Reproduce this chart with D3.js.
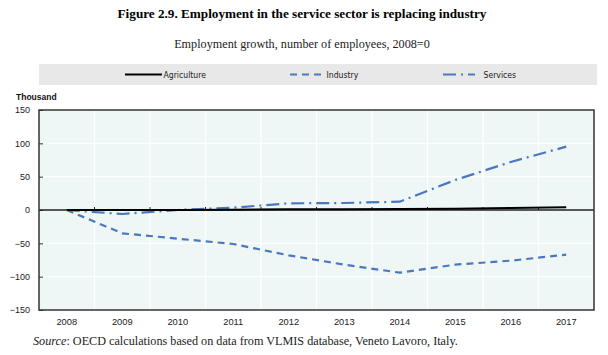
<!DOCTYPE html>
<html><head><meta charset="utf-8">
<script src="https://cdn.jsdelivr.net/npm/d3@7"></script>
<style>body{margin:0;background:#fff}svg{display:block}</style>
</head><body>
<svg id="c" width="608" height="355"></svg>
<script>
const years = ["2008","2009","2010","2011","2012","2013","2014","2015","2016","2017"];
const agriculture = [0, 0, 0, 0.5, 1, 1, 1.5, 2, 3, 4];
const industry = [0, -35, -43, -51, -68, -82, -94, -82, -76, -67];
const services = [0, -6, 0, 3.5, 10, 10.5, 12.5, 45, 72, 95];
const yTicks = [150, 100, 50, 0, -50, -100, -150];
const seriesNames = ["Agriculture", "Industry", "Services"];

const svg = d3.select("#c");
const m = {l:39, r:594, t:110, b:310};
const x = d3.scaleBand().domain(years).range([m.l, m.r]);
const y = d3.scaleLinear().domain([-150, 150]).range([m.b, m.t]);
const cx = d => x(d) + x.bandwidth()/2;

// titles
svg.append("text").attr("x", 302).attr("y", 18).attr("text-anchor","middle")
  .attr("font-family","Liberation Serif, Times New Roman, serif").attr("font-weight","bold").attr("font-size",13.2)
  .text("Figure 2.9. Employment in the service sector is replacing industry");
svg.append("text").attr("x", 302).attr("y", 48).attr("text-anchor","middle")
  .attr("font-family","Liberation Serif, Times New Roman, serif").attr("font-size",12.2).attr("fill","#222")
  .text("Employment growth, number of employees, 2008=0");

// legend
svg.append("rect").attr("x",39).attr("y",64).attr("width",558).attr("height",21).attr("fill","#e8e8e8");
const legItems = [
  {name:seriesNames[0], x1:125, x2:162, color:"#000", dash:null},
  {name:seriesNames[1], x1:290, x2:325, color:"#4a78bd", dash:"7,5"},
  {name:seriesNames[2], x1:443, x2:482, color:"#4a78bd", dash:"13,5,2,5,7"}
];
legItems.forEach(d => {
  svg.append("line").attr("x1",d.x1).attr("x2",d.x2).attr("y1",74.5).attr("y2",74.5)
    .attr("stroke",d.color).attr("stroke-width",2).attr("stroke-dasharray",d.dash);
  svg.append("text").attr("x",d.x2+1.5).attr("y",78).attr("font-family","DejaVu Sans Condensed, Liberation Sans, Arial, sans-serif")
    .attr("font-stretch","condensed").attr("font-size",8.6).attr("fill","#222").text(d.name);
});

// plot background
svg.append("rect").attr("x",m.l).attr("y",m.t).attr("width",m.r-m.l).attr("height",m.b-m.t).attr("fill","#eef6f6");
// gridlines
const g = svg.append("g");
yTicks.filter(v => v!==150 && v!==-150 && v!==0).forEach(v => {
  g.append("line").attr("x1",m.l).attr("x2",m.r).attr("y1",y(v)).attr("y2",y(v)).attr("stroke","#fff").attr("stroke-width",1.4);
});
years.slice(1).forEach(yr => {
  g.append("line").attr("x1",x(yr)).attr("x2",x(yr)).attr("y1",m.t).attr("y2",m.b).attr("stroke","#fff").attr("stroke-width",1.4);
});

// y axis labels
svg.append("text").attr("x",16).attr("y",100).attr("font-family","Liberation Sans, Arial, sans-serif")
  .attr("font-weight","bold").attr("font-size",8.5).attr("fill","#111").text("Thousand");
const yAxis = d3.axisLeft(y).tickValues(yTicks).tickSize(-4).tickPadding(9);
const ya = svg.append("g").attr("transform",`translate(${m.l},0)`).call(yAxis);
ya.select(".domain").remove();
ya.selectAll("line").attr("stroke","#333");
ya.selectAll("text").attr("font-family","Liberation Sans, Arial, sans-serif").attr("font-size",9).attr("fill","#222");

// x labels
const xAxis = d3.axisBottom(x).tickSize(0).tickPadding(8);
const xa = svg.append("g").attr("transform",`translate(0,${m.b})`).call(xAxis);
xa.select(".domain").remove();
xa.selectAll("text").attr("font-family","Liberation Sans, Arial, sans-serif").attr("font-size",9.3).attr("fill","#222");

// zero line with ticks at band boundaries
svg.append("line").attr("x1",m.l).attr("x2",m.r).attr("y1",y(0)).attr("y2",y(0)).attr("stroke","#222").attr("stroke-width",1.3);
years.slice(1).forEach(yr => {
  svg.append("line").attr("x1",x(yr)).attr("x2",x(yr)).attr("y1",y(0)-3).attr("y2",y(0)).attr("stroke","#222").attr("stroke-width",1);
});

// lines
const line = d3.line().x((d,i)=>cx(years[i])).y(d=>y(d));
svg.append("path").datum(industry).attr("d",line).attr("fill","none").attr("stroke","#4a78bd").attr("stroke-width",2.2).attr("stroke-dasharray","7,5");
svg.append("path").datum(services).attr("d",line).attr("fill","none").attr("stroke","#4a78bd").attr("stroke-width",2.2).attr("stroke-dasharray","13,5,2,5");
svg.append("path").datum(agriculture).attr("d",line).attr("fill","none").attr("stroke","#000").attr("stroke-width",2);

// border
svg.append("rect").attr("x",m.l).attr("y",m.t).attr("width",m.r-m.l).attr("height",m.b-m.t).attr("fill","none").attr("stroke","#333").attr("stroke-width",1.5);

// source
const src = svg.append("text").attr("x",33).attr("y",345).attr("font-family","Liberation Serif, Times New Roman, serif").attr("font-size",12.2).attr("fill","#222");
src.append("tspan").attr("font-style","italic").text("Source");
src.append("tspan").text(": OECD calculations based on data from VLMIS database, Veneto Lavoro, Italy.");
</script>
</body></html>
